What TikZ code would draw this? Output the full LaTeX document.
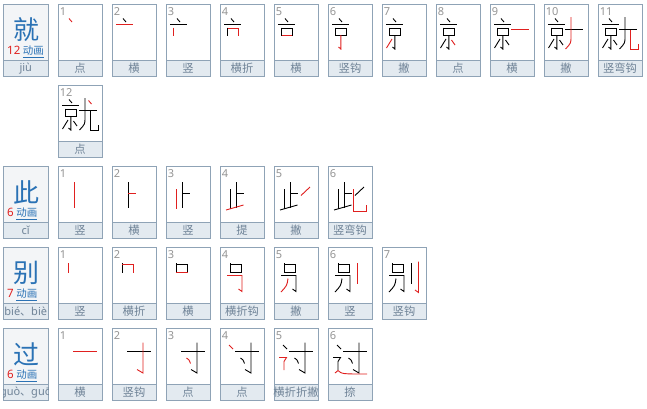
\documentclass[tikz,border=0pt]{standalone}
\usepackage{fontspec}
\setmainfont{Noto Sans}
\newfontfamily\cjk{Noto Sans CJK SC}
\definecolor{bd}{HTML}{8FA3B6}
\definecolor{strip}{HTML}{E3EAF0}
\definecolor{lbl}{HTML}{6F8397}
\definecolor{hz}{HTML}{2A72B5}
\definecolor{rd}{HTML}{E0201F}
\definecolor{num}{HTML}{959595}
\definecolor{hbg}{HTML}{F3F5F7}
\tikzset{
  stk/.style={line width=0.9pt},
  numtext/.style={anchor=base west, inner sep=0pt, text=num, font=\fontsize{11}{11}\selectfont},
  lbltext/.style={inner sep=0pt, text=lbl, font=\cjk\fontsize{11.3}{11.3}\selectfont},
  pytext/.style={inner sep=0pt, text=lbl, font=\fontsize{11}{11}\selectfont},
  bigchar/.style={inner sep=0pt, text=hz, font=\cjk\fontsize{26}{26}\selectfont},
  % jiu
  jiu1/.style={insert path={(11,14.5)--(14,18)}},
  jiu2/.style={insert path={(4,20.5)--(21,20.5)}},
  jiu3/.style={insert path={(7.5,23.5)--(7.5,32)}},
  jiu4/.style={insert path={(7.5,24)--(18,24)--(18,32)}},
  jiu5/.style={insert path={(7.5,31)--(18,31)}},
  jiu6/.style={insert path={(12.8,31)--(12.8,45)--(10.5,43)}},
  jiu7/.style={insert path={(10,35)--(4.5,44)}},
  jiu8/.style={insert path={(15.5,36)--(19,41)}},
  jiu9/.style={insert path={(21,25)--(39,25)}},
  jiu10/.style={insert path={(27,13)--(27,33) .. controls (27,39) .. (21.5,45)}},
  jiu11/.style={insert path={(32,26)--(32,45)--(40,45)--(40,40)}},
  jiu12/.style={insert path={(30.5,15.5)--(33.5,19)}},
  % ci
  ci1/.style={insert path={(16,16)--(16,41.5)}},
  ci2/.style={insert path={(16,27)--(24,27)}},
  ci3/.style={insert path={(10,23)--(10,43)}},
  ci4/.style={insert path={(6,44)--(23.5,39)}},
  ci5/.style={insert path={(36,21)--(27,29.5)}},
  ci6/.style={insert path={(25.5,23)--(25.5,45.5)--(38.5,45.5)--(38.5,39)}},
  % bie
  bie1/.style={insert path={(10,16)--(10,26)}},
  bie2/.style={insert path={(10,17)--(21.5,17)--(21.5,26)}},
  bie3/.style={insert path={(10,25)--(21.5,25)}},
  bie4/.style={insert path={(7,28.5)--(22,28.5)--(22,44.5)--(18.5,42)}},
  bie5/.style={insert path={(14,31.5) .. controls (13,38.5) .. (7,45)}},
  bie6/.style={insert path={(29,16)--(29,37)}},
  bie7/.style={insert path={(36.5,14.5)--(36.5,45.5)--(33,43)}},
  % guo
  guo1/.style={insert path={(15,23)--(39,23)}},
  guo2/.style={insert path={(31,14.5)--(31,45)--(25,41.5)}},
  guo3/.style={insert path={(20.5,30) .. controls (23,31.5) .. (24.5,35.5)}},
  guo4/.style={insert path={(9,17)--(13,21)}},
  guo5/.style={insert path={(5,29.5)--(12.5,29.5)--(10,33.5)--(10,42)}},
  guo6/.style={insert path={(7,45)--(10,42.5) .. controls (14,46) .. (39,46)}},
}
\newcommand\strokecell[6]{%
  \begin{scope}[shift={(#1,#2)}]
    \fill[white] (0,0) rectangle (44,72);
    \fill[strip] (0,56) rectangle (44,72);
    \draw[bd] (0,56) -- (44,56);
    \draw[bd] (0,0) rectangle (44,72);
    \node[numtext] (#6-n) at (1.6,11.2) {#4};
    \foreach \s in {1,...,#4}{%
      \ifnum\s=#4\relax\def\c{rd}\else\def\c{black}\fi
      \edef\tmp{\noexpand\draw[stk,\c,#3\s]}\tmp;
    }
    \node[lbltext] (#6-l) at (22,64.3) {#5};
  \end{scope}}
\newcommand\headcell[5]{%
  \begin{scope}[shift={(3,#1)}]
    \fill[hbg] (0,0) rectangle (45.5,72);
    \fill[strip] (0,56) rectangle (45.5,72);
    \draw[bd] (0,56) -- (45.5,56);
    \draw[bd] (0,0) rectangle (45.5,72);
    \node[bigchar] (#5-c) at (23,26) {#2};
    \node[anchor=base west, inner sep=0pt] (#5-k) at (4,50.5)
      {\textcolor{rd}{\fontsize{11.5}{11.5}\selectfont #3}\hspace{2.5pt}\textcolor{hz}{\cjk\fontsize{10.5}{10.5}\selectfont\underline{动画}}};
    \begin{scope}
      \clip (0.5,56.5) rectangle (45,71.5);
      \node[pytext] (#5-p) at (22.75,64.3) {#4};
    \end{scope}
  \end{scope}}
\begin{document}
\begin{tikzpicture}[x=1pt,y=-1pt]
  \useasboundingbox (0,0) rectangle (647,408);
  % 就
  \headcell{4}{就}{12}{jiù}{hjiu}
  \strokecell{58}{4}{jiu}{1}{点}{j1}
  \strokecell{112}{4}{jiu}{2}{横}{j2}
  \strokecell{166}{4}{jiu}{3}{竖}{j3}
  \strokecell{220}{4}{jiu}{4}{横折}{j4}
  \strokecell{274}{4}{jiu}{5}{横}{j5}
  \strokecell{328}{4}{jiu}{6}{竖钩}{j6}
  \strokecell{382}{4}{jiu}{7}{撇}{j7}
  \strokecell{436}{4}{jiu}{8}{点}{j8}
  \strokecell{490}{4}{jiu}{9}{横}{j9}
  \strokecell{544}{4}{jiu}{10}{撇}{j10}
  \strokecell{598}{4}{jiu}{11}{竖弯钩}{j11}
  \strokecell{58}{85}{jiu}{12}{点}{j12}
  % 此
  \headcell{166}{此}{6}{cǐ}{hci}
  \strokecell{58}{166}{ci}{1}{竖}{c1}
  \strokecell{112}{166}{ci}{2}{横}{c2}
  \strokecell{166}{166}{ci}{3}{竖}{c3}
  \strokecell{220}{166}{ci}{4}{提}{c4}
  \strokecell{274}{166}{ci}{5}{撇}{c5}
  \strokecell{328}{166}{ci}{6}{竖弯钩}{c6}
  % 别
  \headcell{247}{别}{7}{bié{\cjk 、}biè}{hbie}
  \strokecell{58}{247}{bie}{1}{竖}{b1}
  \strokecell{112}{247}{bie}{2}{横折}{b2}
  \strokecell{166}{247}{bie}{3}{横}{b3}
  \strokecell{220}{247}{bie}{4}{横折钩}{b4}
  \strokecell{274}{247}{bie}{5}{撇}{b5}
  \strokecell{328}{247}{bie}{6}{竖}{b6}
  \strokecell{382}{247}{bie}{7}{竖钩}{b7}
  % 过
  \headcell{328}{过}{6}{guò{\cjk 、}guō}{hguo}
  \strokecell{58}{328}{guo}{1}{横}{g1}
  \strokecell{112}{328}{guo}{2}{竖钩}{g2}
  \strokecell{166}{328}{guo}{3}{点}{g3}
  \strokecell{220}{328}{guo}{4}{点}{g4}
  \strokecell{274}{328}{guo}{5}{横折折撇}{g5}
  \strokecell{328}{328}{guo}{6}{捺}{g6}
\end{tikzpicture}
\end{document}
